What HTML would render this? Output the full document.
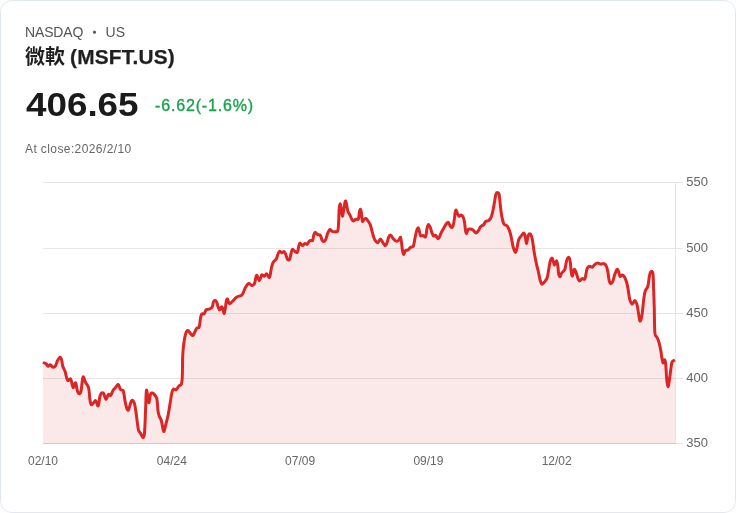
<!DOCTYPE html>
<html lang="zh-Hant"><head><meta charset="utf-8"><title>微軟 (MSFT.US)</title>
<style>
html,body{margin:0;padding:0;background:#fff;}
body{width:736px;height:513px;overflow:hidden;position:relative;font-family:"Liberation Sans","Noto Sans CJK TC",sans-serif;}
.card{position:absolute;left:0;top:0;width:734px;height:511px;border:1px solid #e2e8f0;border-radius:12px;background:#fff;}
.abs{position:absolute;white-space:nowrap;line-height:1;}
.ex{left:25px;top:24.5px;font-size:14px;color:#555;transform-origin:0 11.85px;transform:scaleY(1.08);}
.ex .a{letter-spacing:-0.15px;}
.ex .dot{display:inline-block;width:3px;height:3px;border-radius:50%;background:#555;margin:0 9.3px 1px 10px;vertical-align:middle;font-size:0;overflow:hidden;}
.name{left:25px;top:46.5px;font-size:20px;font-weight:bold;color:#1f1f1f;}
.name .en{display:inline-block;transform-origin:0 50%;transform:scaleX(1.04);-webkit-text-stroke:0.25px #1f1f1f;margin-left:-1px;letter-spacing:0.22px;}
.price{left:25.5px;top:88.2px;font-size:33px;font-weight:bold;color:#1a1a1a;transform-origin:0 0;transform:scaleX(1.115);}
.chg{left:155px;top:98px;font-size:16px;color:#16a34a;letter-spacing:0.84px;-webkit-text-stroke:0.35px #16a34a;}
.close{left:25px;top:143px;font-size:12px;color:#666;letter-spacing:0.4px;}
.chart{position:absolute;left:0;top:0;}
.tk{font-family:"Liberation Sans",sans-serif;font-size:12px;fill:#666;}
</style></head><body>
<div class="card"></div>
<div class="abs ex"><span class="a">NASDAQ</span><span class="dot">•</span><span>US</span></div>
<div class="abs name">微軟 <span class="en">(MSFT.US)</span></div>
<div class="abs price">406.65</div>
<div class="abs chg">-6.62(-1.6%)</div>
<div class="abs close">At close:2026/2/10</div>
<svg class="chart" width="736" height="513" viewBox="0 0 736 513">
<line x1="43" x2="683" y1="182.5" y2="182.5" stroke="#e6e6e6" stroke-width="1"/>
<line x1="43" x2="683" y1="248.5" y2="248.5" stroke="#e6e6e6" stroke-width="1"/>
<line x1="43" x2="683" y1="313.5" y2="313.5" stroke="#e6e6e6" stroke-width="1"/>
<line x1="43" x2="683" y1="378.5" y2="378.5" stroke="#e6e6e6" stroke-width="1"/>
<line x1="43" x2="683" y1="443.5" y2="443.5" stroke="#e6e6e6" stroke-width="1"/>
<path d="M43.00 362.20C43.17 362.31 43.32 362.40 43.50 362.50C44.46 363.03 45.42 363.32 46.25 364.00C47.03 364.63 47.36 366.11 48.10 366.25C48.76 366.37 49.53 364.61 50.25 364.75C51.28 364.96 52.05 367.08 53.10 367.25C53.93 367.38 55.05 366.44 55.60 365.60C56.59 364.11 56.64 362.24 57.50 360.60C58.18 359.32 59.14 357.51 60.00 357.25C60.54 357.09 61.24 358.54 61.50 359.40C62.20 361.69 62.06 363.93 62.75 366.25C63.29 368.08 64.37 369.44 65.00 371.25C66.12 374.46 66.28 378.57 67.75 380.60C68.24 381.28 70.10 378.35 70.60 379.00C71.97 380.76 72.01 386.68 73.10 387.50C73.76 388.00 75.01 382.25 75.60 382.75C76.55 383.56 76.52 388.42 77.50 391.25C77.85 392.27 78.77 393.75 79.40 393.75C80.00 393.75 80.78 392.25 81.00 391.25C82.07 386.35 81.97 379.05 83.10 376.90C83.58 375.99 84.63 380.59 85.60 382.50C86.52 384.30 88.02 385.57 88.50 387.50C89.56 391.70 89.31 395.66 90.00 400.00C90.27 401.69 90.47 404.23 91.25 404.75C91.78 405.11 92.90 403.31 93.75 402.50C94.42 401.86 95.13 400.22 95.60 400.60C96.65 401.45 97.52 406.57 98.10 406.00C99.06 405.05 99.05 399.56 100.00 396.25C100.38 394.92 101.04 393.32 101.90 392.75C102.35 392.45 103.38 393.15 103.75 393.75C104.82 395.48 105.13 399.28 106.00 399.40C106.80 399.51 107.38 395.33 108.50 394.40C108.99 394.00 110.13 396.02 110.60 395.60C111.74 394.57 112.03 391.99 113.10 390.25C113.78 389.15 114.76 388.49 115.60 387.50C116.51 386.44 117.39 384.10 118.10 384.40C119.14 384.83 119.40 388.16 120.60 389.60C121.15 390.26 122.79 389.62 123.10 390.40C124.33 393.52 124.26 397.14 125.00 400.75C125.52 403.30 125.86 405.57 126.70 408.00C127.01 408.90 127.91 410.59 128.30 410.25C129.07 409.58 129.40 406.90 130.00 405.10C130.48 403.66 130.73 402.30 131.40 401.00C131.61 400.60 132.22 400.03 132.50 400.25C133.27 400.87 134.07 402.17 134.40 403.40C135.38 406.99 135.68 410.28 136.25 414.00C137.12 419.68 137.26 424.73 138.50 430.25C138.79 431.52 139.91 432.27 140.60 433.40C141.52 434.90 142.36 437.63 143.10 437.75C143.69 437.84 144.28 435.38 144.40 434.00C145.16 425.31 145.18 417.75 145.60 409.00C145.91 402.44 145.94 393.52 146.50 390.25C146.69 389.14 147.31 394.31 147.75 396.50C148.19 398.69 148.58 403.12 149.00 402.75C149.58 402.24 149.61 396.75 150.60 394.00C150.84 393.34 151.90 392.83 152.50 393.00C153.44 393.27 154.32 394.32 155.00 395.25C155.86 396.42 156.63 397.57 156.90 399.00C157.71 403.26 157.48 407.16 158.10 411.50C158.36 413.29 158.79 414.81 159.40 416.50C159.89 417.87 160.86 418.85 161.25 420.25C162.15 423.44 162.31 426.37 163.10 429.60C163.27 430.31 163.78 431.87 164.00 431.50C164.66 430.35 165.05 427.44 165.60 425.25C166.48 421.75 167.37 418.78 168.10 415.25C168.91 411.34 169.34 407.94 170.00 404.00C170.66 400.06 171.00 396.62 171.90 392.75C172.22 391.37 172.60 389.63 173.50 389.00C174.12 388.56 175.52 390.09 176.25 389.70C177.36 389.11 177.72 387.27 178.75 386.20C179.47 385.45 180.88 385.41 181.25 384.50C182.11 382.37 182.12 379.97 182.25 377.50C182.65 369.64 182.35 362.86 182.75 355.00C182.99 350.26 183.43 346.19 184.10 341.50C184.53 338.49 184.90 335.79 185.90 333.00C186.27 331.98 187.27 330.54 188.00 330.60C188.84 330.68 189.51 332.47 190.40 333.40C191.19 334.22 192.14 335.92 192.80 335.60C193.86 335.08 194.42 332.61 195.30 331.00C195.86 329.98 196.12 328.84 196.90 328.10C197.41 327.61 198.77 328.16 199.00 327.50C200.07 324.45 199.87 320.96 200.60 317.50C200.89 316.14 201.12 314.55 201.90 313.75C202.31 313.32 203.54 314.42 204.00 314.00C204.97 313.11 205.07 311.14 206.00 310.00C206.38 309.53 207.13 309.60 207.75 309.40C208.74 309.08 209.71 308.99 210.60 308.50C211.28 308.12 211.94 307.61 212.25 306.90C212.95 305.30 212.76 303.45 213.50 301.90C213.81 301.24 214.70 300.50 215.25 300.60C215.89 300.71 216.55 301.72 216.90 302.50C217.54 303.92 217.54 305.42 218.10 306.90C218.53 308.04 219.16 310.00 219.75 310.00C220.35 310.00 220.83 307.36 221.50 306.90C221.79 306.70 222.31 307.60 222.50 308.10C223.18 309.91 223.49 313.38 224.00 313.50C224.45 313.61 224.94 310.44 225.25 308.75C225.81 305.71 225.82 302.94 226.50 300.00C226.61 299.53 227.28 298.72 227.50 299.00C228.30 300.03 228.42 303.31 229.40 303.75C230.17 304.09 231.47 302.19 232.50 301.25C234.10 299.79 235.14 298.07 236.90 296.90C238.43 295.89 240.72 296.28 241.90 295.00C243.66 293.09 243.88 290.18 245.30 287.80C246.28 286.15 247.36 283.94 248.75 283.50C249.77 283.17 251.10 285.68 252.20 285.60C253.15 285.54 254.13 284.17 254.60 283.10C255.46 281.13 255.38 279.02 256.00 276.90C256.18 276.27 256.61 274.94 256.90 275.25C257.80 276.23 258.56 280.68 259.40 280.60C260.31 280.51 260.70 275.79 261.90 274.75C262.45 274.27 263.64 276.42 264.40 276.25C265.25 276.07 265.79 273.57 266.50 273.75C267.54 274.01 268.82 278.11 269.40 277.50C270.49 276.36 270.50 271.79 271.25 268.75C271.80 266.54 272.08 264.48 273.10 262.50C273.83 261.07 275.45 260.40 276.25 259.00C277.20 257.34 277.30 255.51 278.10 253.75C278.53 252.80 279.04 251.44 279.75 251.25C280.37 251.09 281.13 252.70 281.90 252.75C282.62 252.79 283.46 251.20 284.00 251.50C284.89 251.99 285.43 253.72 286.00 255.00C286.66 256.48 286.66 258.23 287.50 259.40C287.85 259.89 289.11 260.22 289.40 259.75C290.33 258.24 290.38 255.83 291.00 253.75C291.46 252.21 291.68 249.86 292.50 249.40C293.08 249.07 294.05 250.88 295.00 251.50C295.71 251.97 296.89 253.01 297.25 252.50C298.20 251.17 298.12 248.40 298.75 246.25C299.08 245.11 299.36 243.21 300.00 243.10C300.67 242.98 301.59 245.53 302.50 245.60C303.34 245.67 304.06 243.76 305.00 243.50C305.60 243.34 306.37 244.70 306.90 244.40C308.12 243.69 308.70 241.48 310.00 240.60C310.66 240.15 312.10 241.19 312.50 240.60C313.41 239.23 313.13 236.89 313.75 235.00C314.09 233.97 314.60 232.32 315.25 232.25C315.94 232.18 316.64 234.03 317.60 234.60C318.37 235.06 319.68 234.54 320.20 235.20C321.26 236.54 321.23 238.66 322.10 240.30C322.42 240.90 323.10 241.71 323.60 241.60C324.36 241.43 325.26 240.41 325.70 239.50C326.69 237.47 326.79 235.31 327.70 233.20C328.30 231.81 329.05 229.88 330.00 229.50C330.64 229.25 331.35 230.98 332.25 231.40C333.02 231.76 333.87 231.75 334.75 231.75C335.71 231.75 337.13 232.12 337.50 231.40C338.44 229.58 338.32 226.93 338.50 224.50C338.93 218.83 338.77 213.91 339.25 208.25C339.38 206.70 339.94 203.71 340.25 203.90C340.64 204.15 340.90 207.54 341.25 209.50C341.68 211.92 342.06 216.40 342.50 216.40C342.94 216.40 343.30 211.91 343.75 209.50C344.31 206.52 344.70 202.23 345.40 201.00C345.70 200.48 346.30 203.24 346.60 204.50C347.17 206.88 347.16 209.09 347.90 211.40C348.35 212.80 349.33 213.77 350.00 215.10C350.86 216.81 351.29 218.49 352.25 220.10C352.52 220.55 353.07 221.10 353.50 221.00C354.30 220.81 354.86 219.58 355.75 219.25C356.53 218.96 357.93 219.89 358.25 219.25C359.20 217.36 358.86 214.50 359.40 212.00C359.61 211.00 360.08 209.15 360.40 209.25C360.78 209.36 361.19 211.40 361.40 212.60C361.93 215.65 361.76 219.51 362.50 221.40C362.71 221.93 363.46 220.07 364.10 219.50C364.60 219.06 365.24 218.33 365.75 218.50C366.57 218.77 367.28 219.87 367.90 220.75C368.90 222.18 369.77 223.48 370.40 225.10C371.29 227.41 371.57 229.59 372.25 232.00C372.87 234.20 373.26 236.15 374.10 238.25C374.57 239.44 375.17 240.45 376.00 241.40C376.50 241.98 377.38 242.89 377.90 242.60C378.92 242.02 379.52 238.90 380.40 238.90C381.27 238.90 381.98 241.34 382.90 242.60C383.73 243.74 384.65 245.85 385.40 245.75C386.18 245.64 386.73 243.36 387.25 242.00C387.90 240.30 387.97 238.60 388.75 237.00C389.14 236.19 390.01 234.92 390.60 235.10C391.46 235.36 392.02 237.21 392.90 238.25C393.70 239.19 394.38 240.19 395.40 240.75C396.13 241.15 397.20 241.32 397.90 241.00C398.64 240.67 398.97 239.66 399.50 238.90C399.88 238.35 400.31 236.91 400.50 237.25C401.03 238.24 401.26 240.78 401.55 242.70C401.94 245.31 401.98 247.61 402.45 250.20C402.73 251.74 403.16 254.43 403.70 254.50C404.21 254.57 404.52 251.58 405.45 250.60C406.02 250.00 407.27 250.48 408.00 250.00C409.04 249.31 409.47 247.98 410.50 247.25C411.31 246.67 412.83 247.08 413.25 246.25C414.37 244.01 414.30 241.21 414.90 238.50C415.53 235.66 415.88 233.15 416.75 230.40C417.05 229.44 417.84 227.72 418.25 227.90C418.80 228.14 419.10 230.29 419.50 231.60C419.97 233.13 419.94 235.12 420.75 236.00C421.16 236.45 422.27 235.25 423.00 235.40C423.93 235.60 425.14 237.62 425.50 237.00C426.54 235.20 426.28 231.42 427.00 228.50C427.36 227.04 427.95 224.75 428.60 224.50C429.09 224.31 429.83 226.22 430.25 227.25C430.93 228.93 431.10 230.55 431.75 232.25C432.27 233.61 432.71 235.25 433.60 236.00C434.02 236.36 434.99 235.10 435.50 235.40C436.61 236.06 437.47 239.10 438.25 238.75C439.43 238.22 440.05 234.92 441.10 232.90C442.15 230.89 443.11 229.20 444.25 227.25C445.08 225.83 445.74 224.52 446.75 223.25C447.14 222.77 447.88 222.00 448.25 222.25C448.98 222.75 449.25 224.35 449.90 225.40C450.38 226.18 450.90 227.38 451.50 227.50C451.98 227.59 452.76 226.68 453.00 226.00C453.72 223.96 453.89 221.95 454.25 219.75C454.68 217.14 454.76 214.84 455.25 212.25C455.41 211.43 455.81 209.83 456.10 210.00C456.56 210.27 456.85 212.32 457.40 213.50C457.87 214.51 458.27 215.95 459.00 216.25C459.56 216.48 460.45 214.85 461.10 215.00C461.93 215.20 462.82 216.29 463.25 217.25C464.05 219.05 464.26 220.90 464.60 222.90C465.05 225.50 465.04 227.81 465.50 230.40C465.70 231.52 466.11 233.60 466.50 233.50C466.98 233.37 467.21 230.78 468.00 229.75C468.40 229.24 469.23 229.07 469.90 229.10C470.98 229.15 472.06 229.43 473.00 230.00C474.23 230.76 475.03 232.82 476.10 232.90C476.99 232.96 477.88 231.39 478.60 230.40C479.42 229.26 479.59 227.84 480.50 226.80C481.37 225.81 482.78 225.56 483.70 224.60C484.63 223.63 484.83 222.12 485.80 221.30C486.44 220.76 487.56 221.14 488.30 220.70C489.20 220.16 490.01 219.44 490.50 218.50C491.48 216.61 491.98 214.71 492.50 212.60C493.35 209.15 493.74 206.10 494.40 202.60C494.97 199.56 495.12 196.77 496.00 193.90C496.20 193.23 496.98 192.50 497.50 192.50C498.02 192.50 498.84 193.22 499.00 193.90C499.81 197.42 499.80 200.79 500.25 204.50C500.67 208.00 500.93 211.02 501.50 214.50C501.93 217.15 502.36 219.44 503.10 222.00C503.37 222.94 503.73 223.84 504.40 224.50C505.06 225.15 506.23 225.09 506.90 225.75C507.73 226.56 508.22 227.60 508.70 228.70C509.44 230.38 509.92 231.92 510.40 233.70C511.08 236.22 511.46 238.44 512.00 241.00C512.48 243.27 512.62 245.30 513.30 247.50C513.85 249.29 514.84 252.49 515.50 252.40C516.20 252.31 516.72 248.92 517.20 247.00C517.86 244.37 517.83 241.90 518.75 239.40C519.30 237.91 520.39 236.86 521.40 235.60C522.19 234.62 523.30 232.71 523.90 233.00C524.70 233.38 524.98 235.90 525.40 237.50C525.93 239.54 526.19 243.59 526.60 243.40C527.10 243.17 527.26 238.69 528.00 236.30C528.31 235.29 529.00 233.72 529.60 233.70C530.22 233.68 531.14 235.19 531.50 236.20C532.30 238.44 532.50 240.61 532.90 243.00C533.37 245.79 533.53 248.21 534.00 251.00C534.71 255.21 535.36 258.82 536.25 263.00C536.90 266.08 537.70 268.68 538.40 271.75C539.10 274.80 539.37 277.52 540.25 280.50C540.66 281.89 541.28 284.01 542.10 284.25C542.80 284.45 543.83 282.71 544.60 281.75C545.58 280.52 546.61 279.47 547.10 278.00C548.06 275.10 548.16 272.31 548.75 269.25C549.35 266.18 549.62 263.45 550.50 260.50C550.79 259.52 551.67 257.81 552.10 258.00C552.68 258.25 552.93 260.44 553.40 261.75C553.80 262.86 554.14 265.05 554.60 264.90C555.22 264.70 555.97 260.65 556.50 260.75C557.07 260.86 557.47 263.81 557.75 265.50C558.26 268.53 558.15 271.26 558.75 274.25C558.94 275.20 559.58 276.93 560.00 276.75C560.63 276.49 560.95 274.19 561.75 273.00C562.56 271.79 563.99 271.19 564.60 269.90C565.44 268.13 565.44 266.23 565.90 264.25C566.31 262.50 566.38 260.83 567.10 259.25C567.47 258.43 568.59 257.08 569.00 257.40C569.70 257.95 570.01 260.19 570.25 261.75C570.79 265.21 570.73 268.28 571.25 271.75C571.48 273.30 571.99 276.44 572.40 276.10C573.04 275.56 573.40 269.77 574.25 269.25C574.84 268.89 575.86 272.02 576.50 273.60C577.18 275.29 577.31 276.93 578.00 278.60C578.39 279.55 578.95 281.10 579.60 281.10C580.38 281.10 581.09 278.97 582.10 278.60C582.84 278.33 584.16 279.76 584.60 279.25C585.49 278.24 585.49 276.01 585.90 274.25C586.36 272.28 586.31 270.37 587.10 268.60C587.57 267.56 588.53 266.47 589.50 266.20C590.32 265.98 591.39 267.43 592.20 267.20C593.14 266.94 593.60 265.53 594.50 264.80C595.42 264.06 596.33 263.14 597.40 263.00C598.43 262.86 599.39 263.88 600.50 264.00C601.78 264.14 603.17 263.30 604.25 263.75C605.27 264.18 606.03 265.38 606.50 266.50C607.35 268.53 607.58 270.54 608.00 272.75C608.54 275.58 608.56 278.13 609.25 280.90C609.52 281.98 610.12 283.64 610.75 283.75C611.34 283.85 612.33 282.44 612.75 281.50C613.65 279.47 613.78 277.40 614.50 275.25C615.10 273.46 615.67 271.91 616.50 270.25C616.72 269.81 617.27 269.01 617.50 269.25C618.11 269.89 618.43 271.52 618.90 272.75C619.39 274.05 619.51 276.02 620.25 276.50C620.74 276.81 621.70 274.90 622.40 275.00C623.19 275.11 624.00 276.21 624.50 277.10C625.52 278.92 626.17 280.71 626.75 282.75C627.48 285.31 627.77 287.62 628.25 290.25C628.84 293.51 628.96 296.42 629.80 299.60C630.23 301.23 631.02 303.20 631.90 304.00C632.24 304.31 632.88 303.25 633.30 302.75C633.90 302.03 634.32 300.29 634.80 300.50C635.58 300.83 636.47 302.86 636.90 304.30C637.73 307.06 637.87 309.63 638.40 312.50C638.95 315.48 639.23 319.95 640.00 321.00C640.39 321.53 641.39 318.48 641.70 317.00C642.41 313.58 642.48 310.50 642.90 307.00C643.36 303.15 643.64 299.83 644.20 296.00C644.46 294.20 644.62 292.59 645.25 290.90C645.86 289.26 647.23 288.16 647.75 286.50C648.54 284.00 648.52 281.62 649.00 279.00C649.40 276.81 649.48 274.74 650.25 272.75C650.53 272.03 651.58 271.06 652.00 271.25C652.54 271.49 652.91 272.99 653.00 274.00C653.47 279.20 653.40 283.75 653.60 289.00C653.84 295.47 654.07 301.02 654.25 307.50C654.42 313.97 654.37 319.53 654.60 326.00C654.71 329.07 654.55 331.83 655.20 334.75C655.48 336.00 656.67 336.73 657.25 337.90C657.96 339.34 658.47 340.65 658.90 342.20C659.69 345.03 660.20 347.51 660.75 350.40C661.29 353.22 661.49 355.68 662.00 358.50C662.28 360.05 662.46 362.66 663.00 362.90C663.43 363.09 664.35 359.48 664.75 359.75C665.31 360.13 665.57 362.98 665.75 364.75C666.27 369.98 666.21 374.52 666.75 379.75C667.00 382.17 667.52 386.36 668.00 386.60C668.40 386.80 668.93 382.98 669.25 381.00C669.89 377.08 670.14 373.67 670.75 369.75C671.19 366.88 671.18 364.08 672.25 361.60C672.67 360.63 674.04 360.50 675.00 359.90L675.00 443.5L43.00 443.5Z" fill="rgba(220,38,38,0.1)"/>
<line x1="675.5" x2="675.5" y1="182" y2="444" stroke="#e6e6e6" stroke-width="1"/>
<line x1="43" x2="676" y1="443.5" y2="443.5" stroke="#cdcaca" stroke-width="1"/>
<path d="M43.00 362.20C43.17 362.31 43.32 362.40 43.50 362.50C44.46 363.03 45.42 363.32 46.25 364.00C47.03 364.63 47.36 366.11 48.10 366.25C48.76 366.37 49.53 364.61 50.25 364.75C51.28 364.96 52.05 367.08 53.10 367.25C53.93 367.38 55.05 366.44 55.60 365.60C56.59 364.11 56.64 362.24 57.50 360.60C58.18 359.32 59.14 357.51 60.00 357.25C60.54 357.09 61.24 358.54 61.50 359.40C62.20 361.69 62.06 363.93 62.75 366.25C63.29 368.08 64.37 369.44 65.00 371.25C66.12 374.46 66.28 378.57 67.75 380.60C68.24 381.28 70.10 378.35 70.60 379.00C71.97 380.76 72.01 386.68 73.10 387.50C73.76 388.00 75.01 382.25 75.60 382.75C76.55 383.56 76.52 388.42 77.50 391.25C77.85 392.27 78.77 393.75 79.40 393.75C80.00 393.75 80.78 392.25 81.00 391.25C82.07 386.35 81.97 379.05 83.10 376.90C83.58 375.99 84.63 380.59 85.60 382.50C86.52 384.30 88.02 385.57 88.50 387.50C89.56 391.70 89.31 395.66 90.00 400.00C90.27 401.69 90.47 404.23 91.25 404.75C91.78 405.11 92.90 403.31 93.75 402.50C94.42 401.86 95.13 400.22 95.60 400.60C96.65 401.45 97.52 406.57 98.10 406.00C99.06 405.05 99.05 399.56 100.00 396.25C100.38 394.92 101.04 393.32 101.90 392.75C102.35 392.45 103.38 393.15 103.75 393.75C104.82 395.48 105.13 399.28 106.00 399.40C106.80 399.51 107.38 395.33 108.50 394.40C108.99 394.00 110.13 396.02 110.60 395.60C111.74 394.57 112.03 391.99 113.10 390.25C113.78 389.15 114.76 388.49 115.60 387.50C116.51 386.44 117.39 384.10 118.10 384.40C119.14 384.83 119.40 388.16 120.60 389.60C121.15 390.26 122.79 389.62 123.10 390.40C124.33 393.52 124.26 397.14 125.00 400.75C125.52 403.30 125.86 405.57 126.70 408.00C127.01 408.90 127.91 410.59 128.30 410.25C129.07 409.58 129.40 406.90 130.00 405.10C130.48 403.66 130.73 402.30 131.40 401.00C131.61 400.60 132.22 400.03 132.50 400.25C133.27 400.87 134.07 402.17 134.40 403.40C135.38 406.99 135.68 410.28 136.25 414.00C137.12 419.68 137.26 424.73 138.50 430.25C138.79 431.52 139.91 432.27 140.60 433.40C141.52 434.90 142.36 437.63 143.10 437.75C143.69 437.84 144.28 435.38 144.40 434.00C145.16 425.31 145.18 417.75 145.60 409.00C145.91 402.44 145.94 393.52 146.50 390.25C146.69 389.14 147.31 394.31 147.75 396.50C148.19 398.69 148.58 403.12 149.00 402.75C149.58 402.24 149.61 396.75 150.60 394.00C150.84 393.34 151.90 392.83 152.50 393.00C153.44 393.27 154.32 394.32 155.00 395.25C155.86 396.42 156.63 397.57 156.90 399.00C157.71 403.26 157.48 407.16 158.10 411.50C158.36 413.29 158.79 414.81 159.40 416.50C159.89 417.87 160.86 418.85 161.25 420.25C162.15 423.44 162.31 426.37 163.10 429.60C163.27 430.31 163.78 431.87 164.00 431.50C164.66 430.35 165.05 427.44 165.60 425.25C166.48 421.75 167.37 418.78 168.10 415.25C168.91 411.34 169.34 407.94 170.00 404.00C170.66 400.06 171.00 396.62 171.90 392.75C172.22 391.37 172.60 389.63 173.50 389.00C174.12 388.56 175.52 390.09 176.25 389.70C177.36 389.11 177.72 387.27 178.75 386.20C179.47 385.45 180.88 385.41 181.25 384.50C182.11 382.37 182.12 379.97 182.25 377.50C182.65 369.64 182.35 362.86 182.75 355.00C182.99 350.26 183.43 346.19 184.10 341.50C184.53 338.49 184.90 335.79 185.90 333.00C186.27 331.98 187.27 330.54 188.00 330.60C188.84 330.68 189.51 332.47 190.40 333.40C191.19 334.22 192.14 335.92 192.80 335.60C193.86 335.08 194.42 332.61 195.30 331.00C195.86 329.98 196.12 328.84 196.90 328.10C197.41 327.61 198.77 328.16 199.00 327.50C200.07 324.45 199.87 320.96 200.60 317.50C200.89 316.14 201.12 314.55 201.90 313.75C202.31 313.32 203.54 314.42 204.00 314.00C204.97 313.11 205.07 311.14 206.00 310.00C206.38 309.53 207.13 309.60 207.75 309.40C208.74 309.08 209.71 308.99 210.60 308.50C211.28 308.12 211.94 307.61 212.25 306.90C212.95 305.30 212.76 303.45 213.50 301.90C213.81 301.24 214.70 300.50 215.25 300.60C215.89 300.71 216.55 301.72 216.90 302.50C217.54 303.92 217.54 305.42 218.10 306.90C218.53 308.04 219.16 310.00 219.75 310.00C220.35 310.00 220.83 307.36 221.50 306.90C221.79 306.70 222.31 307.60 222.50 308.10C223.18 309.91 223.49 313.38 224.00 313.50C224.45 313.61 224.94 310.44 225.25 308.75C225.81 305.71 225.82 302.94 226.50 300.00C226.61 299.53 227.28 298.72 227.50 299.00C228.30 300.03 228.42 303.31 229.40 303.75C230.17 304.09 231.47 302.19 232.50 301.25C234.10 299.79 235.14 298.07 236.90 296.90C238.43 295.89 240.72 296.28 241.90 295.00C243.66 293.09 243.88 290.18 245.30 287.80C246.28 286.15 247.36 283.94 248.75 283.50C249.77 283.17 251.10 285.68 252.20 285.60C253.15 285.54 254.13 284.17 254.60 283.10C255.46 281.13 255.38 279.02 256.00 276.90C256.18 276.27 256.61 274.94 256.90 275.25C257.80 276.23 258.56 280.68 259.40 280.60C260.31 280.51 260.70 275.79 261.90 274.75C262.45 274.27 263.64 276.42 264.40 276.25C265.25 276.07 265.79 273.57 266.50 273.75C267.54 274.01 268.82 278.11 269.40 277.50C270.49 276.36 270.50 271.79 271.25 268.75C271.80 266.54 272.08 264.48 273.10 262.50C273.83 261.07 275.45 260.40 276.25 259.00C277.20 257.34 277.30 255.51 278.10 253.75C278.53 252.80 279.04 251.44 279.75 251.25C280.37 251.09 281.13 252.70 281.90 252.75C282.62 252.79 283.46 251.20 284.00 251.50C284.89 251.99 285.43 253.72 286.00 255.00C286.66 256.48 286.66 258.23 287.50 259.40C287.85 259.89 289.11 260.22 289.40 259.75C290.33 258.24 290.38 255.83 291.00 253.75C291.46 252.21 291.68 249.86 292.50 249.40C293.08 249.07 294.05 250.88 295.00 251.50C295.71 251.97 296.89 253.01 297.25 252.50C298.20 251.17 298.12 248.40 298.75 246.25C299.08 245.11 299.36 243.21 300.00 243.10C300.67 242.98 301.59 245.53 302.50 245.60C303.34 245.67 304.06 243.76 305.00 243.50C305.60 243.34 306.37 244.70 306.90 244.40C308.12 243.69 308.70 241.48 310.00 240.60C310.66 240.15 312.10 241.19 312.50 240.60C313.41 239.23 313.13 236.89 313.75 235.00C314.09 233.97 314.60 232.32 315.25 232.25C315.94 232.18 316.64 234.03 317.60 234.60C318.37 235.06 319.68 234.54 320.20 235.20C321.26 236.54 321.23 238.66 322.10 240.30C322.42 240.90 323.10 241.71 323.60 241.60C324.36 241.43 325.26 240.41 325.70 239.50C326.69 237.47 326.79 235.31 327.70 233.20C328.30 231.81 329.05 229.88 330.00 229.50C330.64 229.25 331.35 230.98 332.25 231.40C333.02 231.76 333.87 231.75 334.75 231.75C335.71 231.75 337.13 232.12 337.50 231.40C338.44 229.58 338.32 226.93 338.50 224.50C338.93 218.83 338.77 213.91 339.25 208.25C339.38 206.70 339.94 203.71 340.25 203.90C340.64 204.15 340.90 207.54 341.25 209.50C341.68 211.92 342.06 216.40 342.50 216.40C342.94 216.40 343.30 211.91 343.75 209.50C344.31 206.52 344.70 202.23 345.40 201.00C345.70 200.48 346.30 203.24 346.60 204.50C347.17 206.88 347.16 209.09 347.90 211.40C348.35 212.80 349.33 213.77 350.00 215.10C350.86 216.81 351.29 218.49 352.25 220.10C352.52 220.55 353.07 221.10 353.50 221.00C354.30 220.81 354.86 219.58 355.75 219.25C356.53 218.96 357.93 219.89 358.25 219.25C359.20 217.36 358.86 214.50 359.40 212.00C359.61 211.00 360.08 209.15 360.40 209.25C360.78 209.36 361.19 211.40 361.40 212.60C361.93 215.65 361.76 219.51 362.50 221.40C362.71 221.93 363.46 220.07 364.10 219.50C364.60 219.06 365.24 218.33 365.75 218.50C366.57 218.77 367.28 219.87 367.90 220.75C368.90 222.18 369.77 223.48 370.40 225.10C371.29 227.41 371.57 229.59 372.25 232.00C372.87 234.20 373.26 236.15 374.10 238.25C374.57 239.44 375.17 240.45 376.00 241.40C376.50 241.98 377.38 242.89 377.90 242.60C378.92 242.02 379.52 238.90 380.40 238.90C381.27 238.90 381.98 241.34 382.90 242.60C383.73 243.74 384.65 245.85 385.40 245.75C386.18 245.64 386.73 243.36 387.25 242.00C387.90 240.30 387.97 238.60 388.75 237.00C389.14 236.19 390.01 234.92 390.60 235.10C391.46 235.36 392.02 237.21 392.90 238.25C393.70 239.19 394.38 240.19 395.40 240.75C396.13 241.15 397.20 241.32 397.90 241.00C398.64 240.67 398.97 239.66 399.50 238.90C399.88 238.35 400.31 236.91 400.50 237.25C401.03 238.24 401.26 240.78 401.55 242.70C401.94 245.31 401.98 247.61 402.45 250.20C402.73 251.74 403.16 254.43 403.70 254.50C404.21 254.57 404.52 251.58 405.45 250.60C406.02 250.00 407.27 250.48 408.00 250.00C409.04 249.31 409.47 247.98 410.50 247.25C411.31 246.67 412.83 247.08 413.25 246.25C414.37 244.01 414.30 241.21 414.90 238.50C415.53 235.66 415.88 233.15 416.75 230.40C417.05 229.44 417.84 227.72 418.25 227.90C418.80 228.14 419.10 230.29 419.50 231.60C419.97 233.13 419.94 235.12 420.75 236.00C421.16 236.45 422.27 235.25 423.00 235.40C423.93 235.60 425.14 237.62 425.50 237.00C426.54 235.20 426.28 231.42 427.00 228.50C427.36 227.04 427.95 224.75 428.60 224.50C429.09 224.31 429.83 226.22 430.25 227.25C430.93 228.93 431.10 230.55 431.75 232.25C432.27 233.61 432.71 235.25 433.60 236.00C434.02 236.36 434.99 235.10 435.50 235.40C436.61 236.06 437.47 239.10 438.25 238.75C439.43 238.22 440.05 234.92 441.10 232.90C442.15 230.89 443.11 229.20 444.25 227.25C445.08 225.83 445.74 224.52 446.75 223.25C447.14 222.77 447.88 222.00 448.25 222.25C448.98 222.75 449.25 224.35 449.90 225.40C450.38 226.18 450.90 227.38 451.50 227.50C451.98 227.59 452.76 226.68 453.00 226.00C453.72 223.96 453.89 221.95 454.25 219.75C454.68 217.14 454.76 214.84 455.25 212.25C455.41 211.43 455.81 209.83 456.10 210.00C456.56 210.27 456.85 212.32 457.40 213.50C457.87 214.51 458.27 215.95 459.00 216.25C459.56 216.48 460.45 214.85 461.10 215.00C461.93 215.20 462.82 216.29 463.25 217.25C464.05 219.05 464.26 220.90 464.60 222.90C465.05 225.50 465.04 227.81 465.50 230.40C465.70 231.52 466.11 233.60 466.50 233.50C466.98 233.37 467.21 230.78 468.00 229.75C468.40 229.24 469.23 229.07 469.90 229.10C470.98 229.15 472.06 229.43 473.00 230.00C474.23 230.76 475.03 232.82 476.10 232.90C476.99 232.96 477.88 231.39 478.60 230.40C479.42 229.26 479.59 227.84 480.50 226.80C481.37 225.81 482.78 225.56 483.70 224.60C484.63 223.63 484.83 222.12 485.80 221.30C486.44 220.76 487.56 221.14 488.30 220.70C489.20 220.16 490.01 219.44 490.50 218.50C491.48 216.61 491.98 214.71 492.50 212.60C493.35 209.15 493.74 206.10 494.40 202.60C494.97 199.56 495.12 196.77 496.00 193.90C496.20 193.23 496.98 192.50 497.50 192.50C498.02 192.50 498.84 193.22 499.00 193.90C499.81 197.42 499.80 200.79 500.25 204.50C500.67 208.00 500.93 211.02 501.50 214.50C501.93 217.15 502.36 219.44 503.10 222.00C503.37 222.94 503.73 223.84 504.40 224.50C505.06 225.15 506.23 225.09 506.90 225.75C507.73 226.56 508.22 227.60 508.70 228.70C509.44 230.38 509.92 231.92 510.40 233.70C511.08 236.22 511.46 238.44 512.00 241.00C512.48 243.27 512.62 245.30 513.30 247.50C513.85 249.29 514.84 252.49 515.50 252.40C516.20 252.31 516.72 248.92 517.20 247.00C517.86 244.37 517.83 241.90 518.75 239.40C519.30 237.91 520.39 236.86 521.40 235.60C522.19 234.62 523.30 232.71 523.90 233.00C524.70 233.38 524.98 235.90 525.40 237.50C525.93 239.54 526.19 243.59 526.60 243.40C527.10 243.17 527.26 238.69 528.00 236.30C528.31 235.29 529.00 233.72 529.60 233.70C530.22 233.68 531.14 235.19 531.50 236.20C532.30 238.44 532.50 240.61 532.90 243.00C533.37 245.79 533.53 248.21 534.00 251.00C534.71 255.21 535.36 258.82 536.25 263.00C536.90 266.08 537.70 268.68 538.40 271.75C539.10 274.80 539.37 277.52 540.25 280.50C540.66 281.89 541.28 284.01 542.10 284.25C542.80 284.45 543.83 282.71 544.60 281.75C545.58 280.52 546.61 279.47 547.10 278.00C548.06 275.10 548.16 272.31 548.75 269.25C549.35 266.18 549.62 263.45 550.50 260.50C550.79 259.52 551.67 257.81 552.10 258.00C552.68 258.25 552.93 260.44 553.40 261.75C553.80 262.86 554.14 265.05 554.60 264.90C555.22 264.70 555.97 260.65 556.50 260.75C557.07 260.86 557.47 263.81 557.75 265.50C558.26 268.53 558.15 271.26 558.75 274.25C558.94 275.20 559.58 276.93 560.00 276.75C560.63 276.49 560.95 274.19 561.75 273.00C562.56 271.79 563.99 271.19 564.60 269.90C565.44 268.13 565.44 266.23 565.90 264.25C566.31 262.50 566.38 260.83 567.10 259.25C567.47 258.43 568.59 257.08 569.00 257.40C569.70 257.95 570.01 260.19 570.25 261.75C570.79 265.21 570.73 268.28 571.25 271.75C571.48 273.30 571.99 276.44 572.40 276.10C573.04 275.56 573.40 269.77 574.25 269.25C574.84 268.89 575.86 272.02 576.50 273.60C577.18 275.29 577.31 276.93 578.00 278.60C578.39 279.55 578.95 281.10 579.60 281.10C580.38 281.10 581.09 278.97 582.10 278.60C582.84 278.33 584.16 279.76 584.60 279.25C585.49 278.24 585.49 276.01 585.90 274.25C586.36 272.28 586.31 270.37 587.10 268.60C587.57 267.56 588.53 266.47 589.50 266.20C590.32 265.98 591.39 267.43 592.20 267.20C593.14 266.94 593.60 265.53 594.50 264.80C595.42 264.06 596.33 263.14 597.40 263.00C598.43 262.86 599.39 263.88 600.50 264.00C601.78 264.14 603.17 263.30 604.25 263.75C605.27 264.18 606.03 265.38 606.50 266.50C607.35 268.53 607.58 270.54 608.00 272.75C608.54 275.58 608.56 278.13 609.25 280.90C609.52 281.98 610.12 283.64 610.75 283.75C611.34 283.85 612.33 282.44 612.75 281.50C613.65 279.47 613.78 277.40 614.50 275.25C615.10 273.46 615.67 271.91 616.50 270.25C616.72 269.81 617.27 269.01 617.50 269.25C618.11 269.89 618.43 271.52 618.90 272.75C619.39 274.05 619.51 276.02 620.25 276.50C620.74 276.81 621.70 274.90 622.40 275.00C623.19 275.11 624.00 276.21 624.50 277.10C625.52 278.92 626.17 280.71 626.75 282.75C627.48 285.31 627.77 287.62 628.25 290.25C628.84 293.51 628.96 296.42 629.80 299.60C630.23 301.23 631.02 303.20 631.90 304.00C632.24 304.31 632.88 303.25 633.30 302.75C633.90 302.03 634.32 300.29 634.80 300.50C635.58 300.83 636.47 302.86 636.90 304.30C637.73 307.06 637.87 309.63 638.40 312.50C638.95 315.48 639.23 319.95 640.00 321.00C640.39 321.53 641.39 318.48 641.70 317.00C642.41 313.58 642.48 310.50 642.90 307.00C643.36 303.15 643.64 299.83 644.20 296.00C644.46 294.20 644.62 292.59 645.25 290.90C645.86 289.26 647.23 288.16 647.75 286.50C648.54 284.00 648.52 281.62 649.00 279.00C649.40 276.81 649.48 274.74 650.25 272.75C650.53 272.03 651.58 271.06 652.00 271.25C652.54 271.49 652.91 272.99 653.00 274.00C653.47 279.20 653.40 283.75 653.60 289.00C653.84 295.47 654.07 301.02 654.25 307.50C654.42 313.97 654.37 319.53 654.60 326.00C654.71 329.07 654.55 331.83 655.20 334.75C655.48 336.00 656.67 336.73 657.25 337.90C657.96 339.34 658.47 340.65 658.90 342.20C659.69 345.03 660.20 347.51 660.75 350.40C661.29 353.22 661.49 355.68 662.00 358.50C662.28 360.05 662.46 362.66 663.00 362.90C663.43 363.09 664.35 359.48 664.75 359.75C665.31 360.13 665.57 362.98 665.75 364.75C666.27 369.98 666.21 374.52 666.75 379.75C667.00 382.17 667.52 386.36 668.00 386.60C668.40 386.80 668.93 382.98 669.25 381.00C669.89 377.08 670.14 373.67 670.75 369.75C671.19 366.88 671.18 364.08 672.25 361.60C672.67 360.63 674.04 360.50 675.00 359.90" fill="none" stroke="#dc2626" stroke-width="3" stroke-linejoin="round" stroke-linecap="butt"/>
<text transform="translate(686.2 185.8) scale(1.085 1)" class="tk">550</text>
<text transform="translate(686.2 251.8) scale(1.085 1)" class="tk">500</text>
<text transform="translate(686.2 316.8) scale(1.085 1)" class="tk">450</text>
<text transform="translate(686.2 381.8) scale(1.085 1)" class="tk">400</text>
<text transform="translate(686.2 446.8) scale(1.085 1)" class="tk">350</text>
<text x="43" y="465" class="tk" text-anchor="middle">02/10</text>
<text x="171.8" y="465" class="tk" text-anchor="middle">04/24</text>
<text x="300.1" y="465" class="tk" text-anchor="middle">07/09</text>
<text x="428.4" y="465" class="tk" text-anchor="middle">09/19</text>
<text x="556.7" y="465" class="tk" text-anchor="middle">12/02</text>
</svg>
</body></html>
